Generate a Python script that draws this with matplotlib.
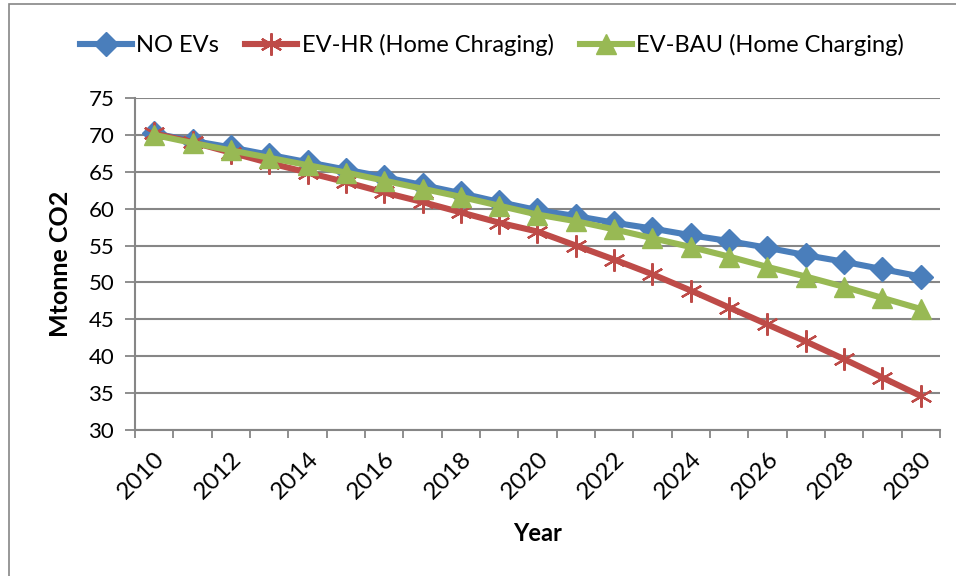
import matplotlib
matplotlib.use("Agg")
import matplotlib.pyplot as plt
from matplotlib.patches import Rectangle

years = list(range(2010, 2031))
no_evs = [70.2, 69.2, 68.3, 67.3, 66.3, 65.3, 64.3, 63.2, 62.1, 60.9, 59.8,
          59.0, 58.1, 57.3, 56.4, 55.6, 54.7, 53.7, 52.8, 51.8, 50.8]
ev_hr = [70.2, 69.0, 67.6, 66.2, 64.9, 63.6, 62.2, 60.9, 59.5, 58.1, 56.9,
         55.0, 53.1, 51.1, 48.9, 46.6, 44.3, 42.0, 39.6, 37.1, 34.6]
ev_bau = [70.0, 68.9, 67.9, 66.9, 65.9, 64.9, 63.8, 62.7, 61.6, 60.4, 59.2,
          58.3, 57.2, 56.0, 54.8, 53.5, 52.1, 50.8, 49.4, 47.9, 46.4]
series_names = ["NO EVs", "EV-HR (Home Chraging)", "EV-BAU (Home Charging)"]
y_ticks = [30, 35, 40, 45, 50, 55, 60, 65, 70, 75]

plt.rcParams['font.family'] = ['Lato', 'DejaVu Sans']

fig = plt.figure(figsize=(9.56, 5.76), dpi=100)
fig.patches.append(Rectangle((9/956, -0.1), 1.2, (576-4)/576 + 0.1,
                             transform=fig.transFigure, fill=False,
                             edgecolor='#868686', linewidth=1.2))
ax = fig.add_axes([135/956, (576-430)/576, (940-135)/956, (430-98)/576])

x = list(range(len(years)))
gray = '#868686'
ax.plot(x, no_evs, color='#4a7ebb', lw=4.4, marker='D', ms=12,
        label=series_names[0], zorder=3)
ax.plot(x, ev_hr, color='#be4b48', lw=4.4, marker=(6, 2, 0), ms=16,
        mew=1.6, label=series_names[1], zorder=4)
ax.plot(x, ev_bau, color='#98b954', lw=4.4, marker='^', ms=14,
        label=series_names[2], zorder=5)

ax.set_xlim(-0.5, len(years) - 0.5)
ax.set_ylim(30, 75)
ax.set_yticks(y_ticks)
ax.yaxis.grid(True, color=gray, lw=1.5)
ax.set_axisbelow(True)
ax.tick_params(axis='y', length=7, color=gray, width=1.3, labelsize=16, pad=8)

# category boundary ticks
ax.set_xticks([i - 0.5 for i in range(len(years) + 1)], minor=False)
ax.set_xticklabels([])
ax.tick_params(axis='x', which='major', length=6, color=gray, width=1.3)
ax.set_xticks([i for i, yr in enumerate(years) if yr % 2 == 0], minor=True)
ax.set_xticklabels([str(yr) for yr in years if yr % 2 == 0], minor=True,
                   rotation=45, ha='right', va='top', rotation_mode='anchor',
                   fontsize=17.5)
ax.tick_params(axis='x', which='minor', length=0, pad=13)

for s in ['top', 'right']:
    ax.spines[s].set_visible(False)
for s in ['left', 'bottom']:
    ax.spines[s].set_color(gray)
    ax.spines[s].set_linewidth(1.5)

ax.set_ylabel("Mtonne CO2", fontsize=18, fontweight='bold', labelpad=12)
ax.set_xlabel("Year", fontsize=17, fontweight='bold', labelpad=14)

fig.legend(loc='center', bbox_to_anchor=(492/956, (576-45)/576), ncol=3,
           frameon=False, fontsize=17, handlelength=2.2, columnspacing=1.1,
           handletextpad=0.2)

fig.savefig("out.png", dpi=100)
